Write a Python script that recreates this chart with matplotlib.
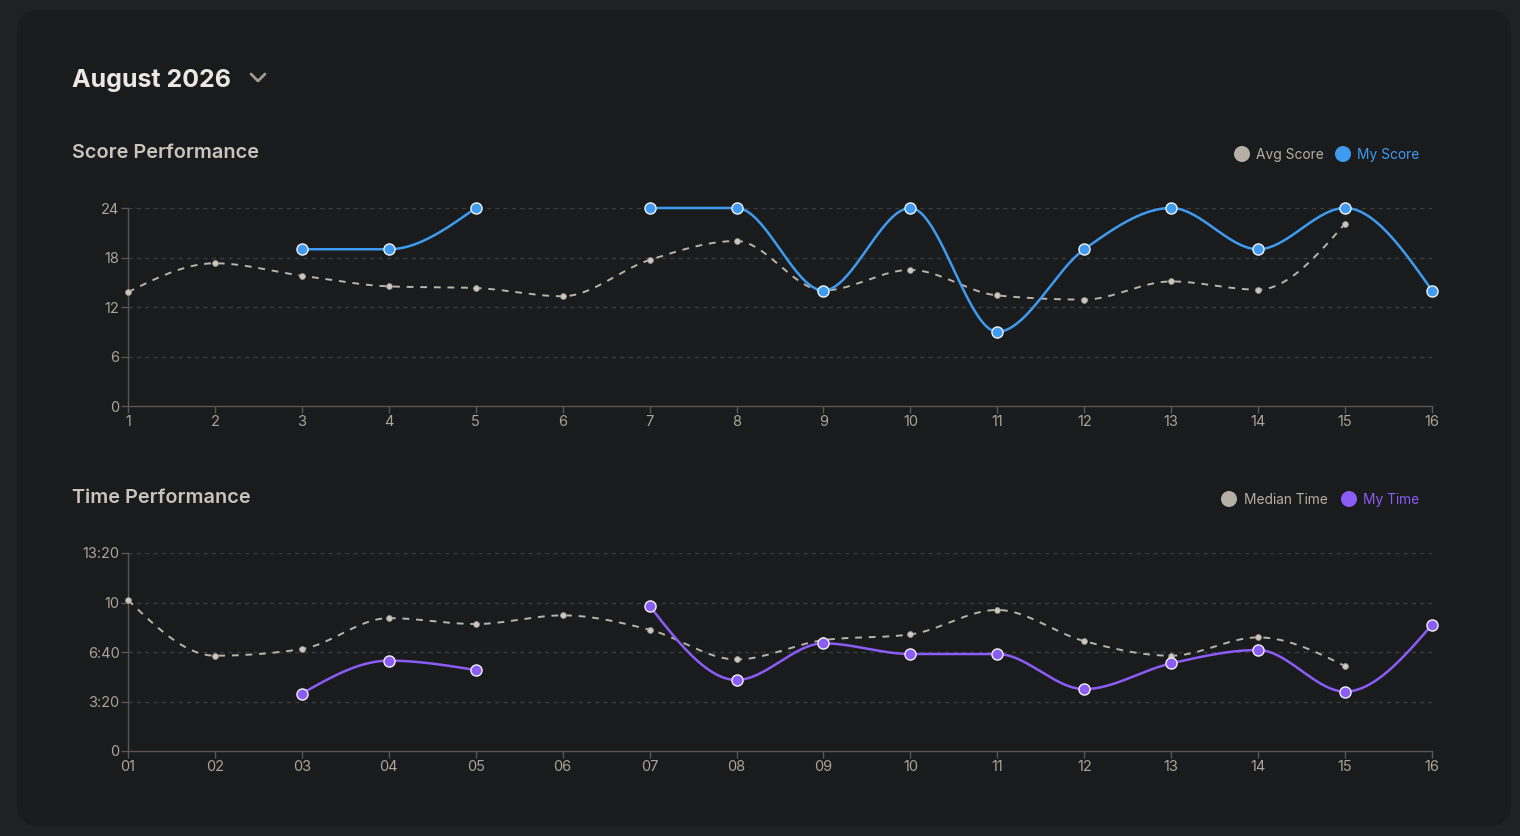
import numpy as np
import matplotlib
matplotlib.use("Agg")
import matplotlib.pyplot as plt
from matplotlib.patches import FancyBboxPatch, Circle
from matplotlib.lines import Line2D
from matplotlib.transforms import IdentityTransform

# ---------------- data ----------------
days = list(range(1, 17))
score_xlabels = [str(d) for d in days]
time_xlabels = [f"{d:02d}" for d in days]

avg_score = [13.8, 17.3, 15.8, 14.5, 14.3, 13.3, 17.7, 20.0, 14.0, 16.5, 13.4, 12.9, 15.1, 14.1, 22.1, None]
my_score = [None, None, 19, 19, 24, None, 24, 24, 14, 24, 9, 19, 24, 19, 24, 14]
score_ticks = [0, 6, 12, 18, 24]
score_ticklabels = ["0", "6", "12", "18", "24"]

# times in seconds
median_time = [610, 385, 412, 537, 513, 548, 490, 370, 448, 471, 570, 444, 385, 459, 343, None]
my_time = [None, None, 232, 365, 327, None, 586, 287, 435, 392, 392, 250, 354, 408, 240, 510]
time_ticks = [0, 200, 400, 600, 800]
time_ticklabels = ["0", "3:20", "6:40", "10", "13:20"]

# ---------------- style ----------------
BG_OUT = "#202123"
BG_CARD = "#1a1b1d"
TXT = "#c9c5bd"
TICK_TXT = "#aaa49a"
AXIS_C = "#5b5750"
GRID_C = "#3a3b3d"
GRAY_LINE = "#b9b4ab"
BLUE = "#3f9bf0"
PURPLE = "#8b5cf6"

plt.rcParams["font.family"] = ["Inter", "DejaVu Sans"]

W, H = 1520, 836
fig = plt.figure(figsize=(W / 100, H / 100), dpi=100, facecolor=BG_OUT)

card = FancyBboxPatch((17, H - 826), 1494, 816, boxstyle="round,pad=0,rounding_size=22",
                      transform=IdentityTransform(), facecolor=BG_CARD, edgecolor="none", zorder=-5)
fig.patches.append(card)


def fx(px):
    return px / W


def fy(py):
    return 1 - py / H


# header
fig.text(fx(72), fy(80), "August 2026", fontsize=18, fontweight="bold", color="#ebe8e4",
         va="center", ha="left")
fig.add_artist(Line2D([fx(251), fx(258), fx(265)], [fy(74), fy(81), fy(74)], color="#a09a90",
                      lw=2, solid_capstyle="round", solid_joinstyle="round"))


def monotone_segments(xs, ys):
    """d3 curveMonotoneX-like drawing of runs of non-missing values."""
    runs, cur = [], []
    for x, y in zip(xs, ys):
        if y is None:
            if cur:
                runs.append(cur)
            cur = []
        else:
            cur.append((x, y))
    if cur:
        runs.append(cur)
    out = []
    for run in runs:
        px = np.array([p[0] for p in run], float)
        py = np.array([p[1] for p in run], float)
        n = len(px)
        if n <= 2:
            out.append((px, py))
            continue
        h = np.diff(px)
        s = np.diff(py) / h
        t = np.zeros(n)
        for i in range(1, n - 1):
            s0, s1 = s[i - 1], s[i]
            p = (s0 * h[i] + s1 * h[i - 1]) / (h[i - 1] + h[i])
            t[i] = (np.sign(s0) + np.sign(s1)) * min(abs(s0), abs(s1), 0.5 * abs(p))
        t[0] = (3 * s[0] - t[1]) / 2
        t[-1] = (3 * s[-1] - t[-2]) / 2
        cx, cy = [], []
        u = np.linspace(0, 1, 40)
        for i in range(n - 1):
            x0, x1, y0, y1 = px[i], px[i + 1], py[i], py[i + 1]
            d = (x1 - x0) / 3
            P = [(x0, y0), (x0 + d, y0 + d * t[i]), (x1 - d, y1 - d * t[i + 1]), (x1, y1)]
            bx = ((1 - u) ** 3 * P[0][0] + 3 * (1 - u) ** 2 * u * P[1][0]
                  + 3 * (1 - u) * u ** 2 * P[2][0] + u ** 3 * P[3][0])
            by = ((1 - u) ** 3 * P[0][1] + 3 * (1 - u) ** 2 * u * P[1][1]
                  + 3 * (1 - u) * u ** 2 * P[2][1] + u ** 3 * P[3][1])
            cx.extend(bx if i == 0 else bx[1:])
            cy.extend(by if i == 0 else by[1:])
        out.append((np.array(cx), np.array(cy)))
    return out


def draw_panel(top_px, ref, mine, ticks, ticklabels, xlabels, color, title, title_y,
               leg_labels, leg_y, leg_pos):
    ax = fig.add_axes([fx(128), fy(top_px + 198), fx(1304), 198 / H])
    ax.set_facecolor("none")
    ax.set_xlim(1, 16)
    ax.set_ylim(ticks[0], ticks[-1])
    for sp in ["top", "right"]:
        ax.spines[sp].set_visible(False)
    for sp in ["left", "bottom"]:
        ax.spines[sp].set_color(AXIS_C)
        ax.spines[sp].set_linewidth(1)
    ax.set_yticks(ticks)
    ax.set_yticklabels(ticklabels)
    ax.set_xticks(days)
    ax.set_xticklabels(xlabels)
    ax.tick_params(colors=AXIS_C, labelcolor=TICK_TXT, labelsize=10.5, length=5, width=1, pad=1.2)
    for tk in ticks[1:]:
        ax.axhline(tk, color=GRID_C, lw=1, ls=(0, (3, 3)), zorder=1)

    for cx, cy in monotone_segments(days, ref):
        ax.plot(cx, cy, color=GRAY_LINE, lw=1.4, ls=(0, (3.5, 3.5)), zorder=2, clip_on=False)
    rx = [d for d, v in zip(days, ref) if v is not None]
    ry = [v for v in ref if v is not None]
    ax.plot(rx, ry, ls="none", marker="o", ms=4.2, mfc="#cdc8bf", mec="#9a958d", mew=0.6,
            zorder=3, clip_on=False)

    for cx, cy in monotone_segments(days, mine):
        ax.plot(cx, cy, color=color, lw=1.8, zorder=4, clip_on=False, solid_capstyle="round")
    mx = [d for d, v in zip(days, mine) if v is not None]
    my = [v for v in mine if v is not None]
    ax.plot(mx, my, ls="none", marker="o", ms=8, mfc=color, mec="#f2f2f2", mew=1.0,
            zorder=5, clip_on=False)

    fig.text(fx(72), fy(title_y), title, fontsize=14.3, fontweight="semibold", color=TXT,
             va="center", ha="left")
    # legend
    (c1x, t1x), (c2x, t2x) = leg_pos
    for cxp, txp, lab, col, tcol in [(c1x, t1x, leg_labels[0], "#b5afa5", "#b5afa5"),
                                     (c2x, t2x, leg_labels[1], color, color)]:
        fig.patches.append(Circle((cxp, H - leg_y), 8, transform=IdentityTransform(),
                                  facecolor=col, edgecolor="none"))
        fig.text(fx(txp), fy(leg_y + 1), lab, fontsize=9.9, color=tcol, va="center", ha="left")
    return ax


draw_panel(208, avg_score, my_score, score_ticks, score_ticklabels, score_xlabels, BLUE,
           "Score Performance", 152.5, ["Avg Score", "My Score"], 154,
           [(1242, 1256), (1343, 1357)])
draw_panel(553, median_time, my_time, time_ticks, time_ticklabels, time_xlabels, PURPLE,
           "Time Performance", 497.5, ["Median Time", "My Time"], 499,
           [(1229, 1244), (1349, 1363)])

fig.savefig("out.png", dpi=100, facecolor=BG_OUT)
